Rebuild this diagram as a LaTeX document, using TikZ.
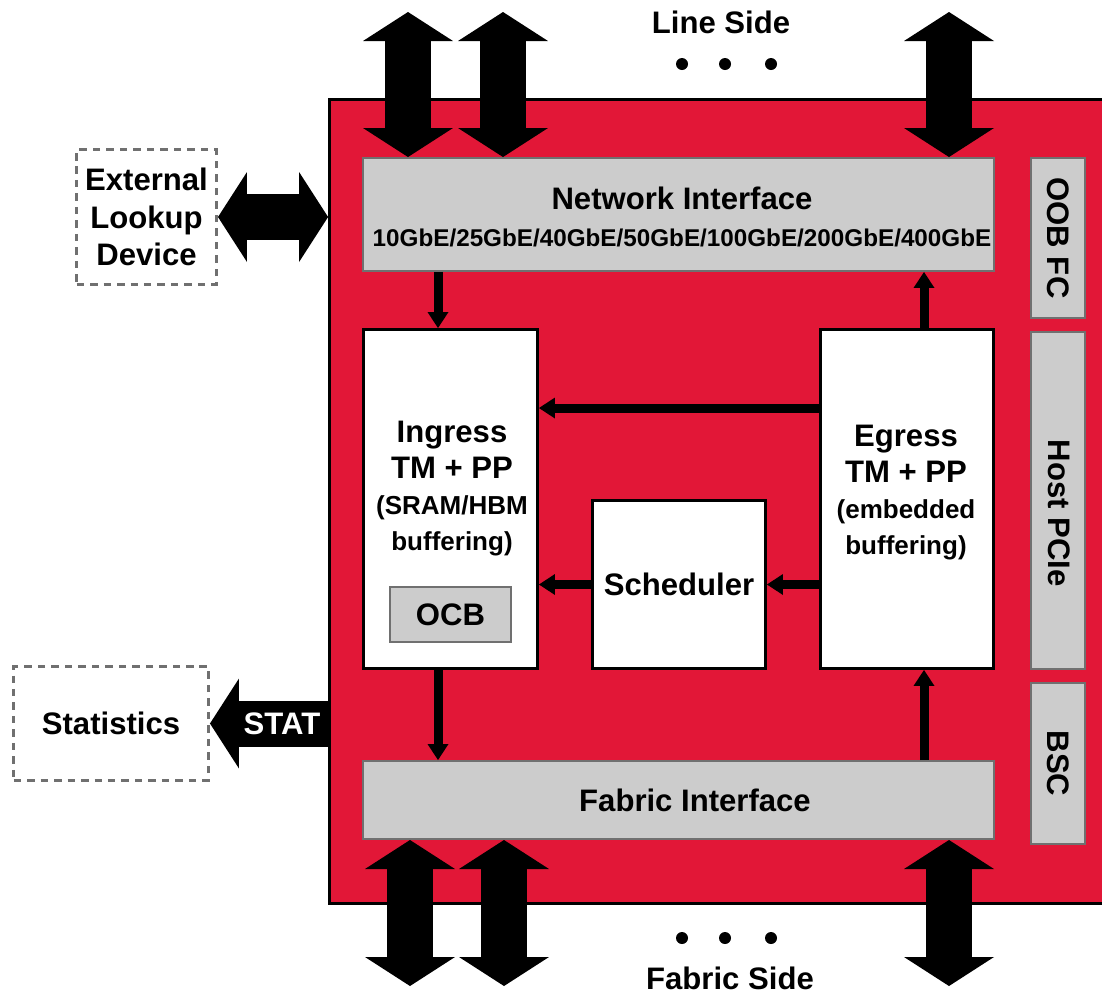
\documentclass[tikz,border=0pt]{standalone}
\usepackage{fontspec}
\setmainfont{Liberation Sans}
\usepackage{tikz}
\usetikzlibrary{arrows.meta,positioning,calc}
\definecolor{chipred}{RGB}{226, 23, 55}
\definecolor{blockgray}{RGB}{204, 204, 204}
\definecolor{edgegray}{RGB}{112, 112, 112}
\newcommand{\lblsize}{\fontsize{17.7}{20.5}\selectfont\bfseries}
\newcommand{\subsize}{\fontsize{14.8}{19.8}\selectfont\bfseries}
\newcommand{\ratesize}{\fontsize{13.8}{16}\selectfont\bfseries}

\begin{document}
\begin{tikzpicture}[
    x=0.02cm, y=-0.02cm,
    chip/.style={rectangle, draw=black, fill=chipred, line width=0.06cm, minimum width=15.53cm, minimum height=16.08cm},
    unit/.style={rectangle, draw=black, fill=white, line width=0.06cm, inner sep=0pt, font=\lblsize, align=center},
    iface/.style={rectangle, draw=edgegray, fill=blockgray, line width=0.04cm, inner sep=0pt, font=\lblsize, align=center},
    extbox/.style={rectangle, draw=edgegray, line width=0.06cm, dash pattern=on 0.15cm off 0.12cm, inner sep=0pt, font=\lblsize, align=center},
    txt/.style={font=\lblsize, align=center, inner sep=0pt},
    flow/.style={-{Triangle[width=0.42cm, length=0.32cm, line width=0pt]}, line width=0.18cm},
    bigarr/.style={{Triangle[width=1.8cm, length=0.58cm, line width=0pt]}-{Triangle[width=1.8cm, length=0.58cm, line width=0pt]}, line width=0.92cm},
    outarr/.style={-{Triangle[width=1.8cm, length=0.58cm, line width=0pt]}, line width=0.92cm},
]
\clip (0,0) rectangle (1102,995);

\node[chip] (chip) at (717.75,501.5) {};

% interfaces
\node[iface, minimum width=12.62cm, minimum height=2.26cm] (ni) at (678.5,214.5) {};
\node[txt] (nitext) at (682,217) {Network Interface\\[0.5pt]\ratesize 10GbE/25GbE/40GbE/50GbE/100GbE/200GbE/400GbE};
\node[iface, minimum width=12.62cm, minimum height=1.56cm] (fi) at (678.5,800) {};
\node[txt] (fitext) at (695,800) {Fabric Interface};

% side blocks
\node[iface, rotate=-90, minimum width=3.2cm, minimum height=1.08cm] (oob) at (1058,238) {OOB FC};
\node[iface, rotate=-90, minimum width=6.74cm, minimum height=1.08cm] (pcie) at (1058,500.5) {};
\node[txt, rotate=-90] (pcietext) at (1059,513) {Host PCIe};
\node[iface, rotate=-90, minimum width=3.22cm, minimum height=1.08cm] (bsc) at (1058,763.5) {BSC};

% pipelines
\node[unit, minimum width=3.48cm, minimum height=6.78cm] (ing) at (450.5,499) {};
\node[txt] (ingtext) at (452,489) {Ingress\\TM + PP\\\subsize (SRAM/HBM\\\subsize buffering)};
\node[iface, minimum width=2.42cm, minimum height=1.1cm] (ocb) at (450.5,614.5) {OCB};
\node[unit, minimum width=3.46cm, minimum height=6.78cm] (eg) at (907,499) {};
\node[txt] (egtext) at (906,493) {Egress\\TM + PP\\\subsize (embedded\\\subsize buffering)};
\node[unit, minimum width=3.46cm, minimum height=3.36cm] (sch) at (679,584.5) {Scheduler};

% outside
\node[extbox, minimum width=2.8cm, minimum height=2.7cm, font=\fontsize{17.7}{21.5}\selectfont\bfseries] (ext) at (146.5,217) {External\\Lookup\\Device};
\node[extbox, minimum width=3.9cm, minimum height=2.28cm] (stats) at (111,723.5) {Statistics};
\node[txt] (lineside) at (721,22) {Line Side};
\node[txt] (fabside) at (730,978) {Fabric Side};
\foreach \dx in {682,725,771} {
    \fill (\dx,64) circle (0.12cm);
    \fill (\dx,938) circle (0.12cm);
}

% internal flows
\draw[flow] ([xshift=-0.25cm]ing.north |- ni.south) -- ([xshift=-0.25cm]ing.north);
\draw[flow] ([xshift=-0.25cm]ing.south) -- ([xshift=-0.25cm]ing.south |- fi.north);
\draw[flow] ([xshift=0.34cm]eg.south |- fi.north) -- ([xshift=0.34cm]eg.south);
\draw[flow] ([xshift=0.34cm]eg.north) -- ([xshift=0.34cm]eg.north |- ni.south);
\draw[flow] ([yshift=1.82cm]eg.west) -- ([yshift=1.82cm]eg.west -| ing.east);
\draw[flow] (sch.west) -- (sch.west -| ing.east);
\draw[flow] (eg.west |- sch.east) -- (sch.east);

% ports
\coordinate (ls1) at (408,12);
\coordinate (ls2) at (503,12);
\coordinate (ls3) at (949,12);
\coordinate (fs1) at (410,986);
\coordinate (fs2) at (504,986);
\coordinate (fs3) at (949,986);
\foreach \p in {ls1,ls2,ls3} \draw[bigarr] (\p) -- (\p |- ni.north);
\foreach \p in {fs1,fs2,fs3} \draw[bigarr] (\p |- fi.south) -- (\p);
\draw[bigarr] (ext.east) -- (ext.east -| chip.west);
\draw[outarr] (stats.east -| chip.west) -- node[pos=0.39, txt, text=white] (stat) {STAT} (stats.east);
\end{tikzpicture}
\end{document}
